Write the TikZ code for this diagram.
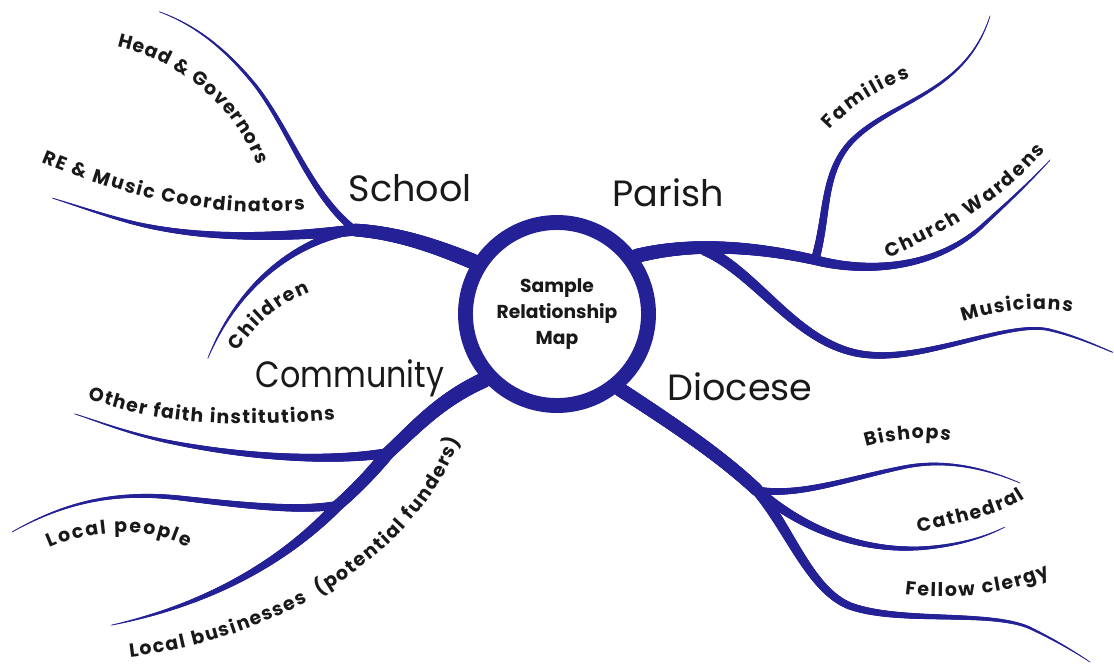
\documentclass[tikz,border=0pt]{standalone}
\usepackage{fontspec}
\usetikzlibrary{decorations.markings,decorations.text}
\newfontfamily\poppins{Poppins}
\definecolor{inkblue}{RGB}{36,33,150}
\definecolor{inktext}{RGB}{25,25,25}
\newcommand{\leaffont}{\poppins\bfseries\fontsize{13.5}{15}\selectfont}

\tikzset{
	twig/.style 2 args={decorate, decoration={markings,
			mark=between positions 0 and 1 step 1pt with {%
				\pgfmathsetmacro\tw{#1+(#2-#1)*\pgfkeysvalueof{/pgf/decoration/mark info/distance from start}/\pgfdecoratedpathlength}%
				\draw[inkblue, line width=\tw pt, line cap=round] (-0.7pt,0) -- (0.7pt,0);}}},
	leaf/.style={decorate, decoration={text along path, text align=fit to path, text color=inktext, text={|\leaffont|#1}}},
	hub/.style={font=\poppins\fontsize{26}{30}\selectfont, text=inktext},
	ring/.style={circle, draw=inkblue, line width=10.6pt, fill=white, minimum size=4.575cm, inner sep=0pt,
		align=center, text=inktext, font=\poppins\bfseries\fontsize{13.3}{18.4}\selectfont}
}

\begin{document}
\begin{tikzpicture}[x=0.025cm, y=-0.025cm]
	\useasboundingbox (0,0) rectangle (1114,666);

	\node (map) at (557,314) [ring] {Sample\\Relationship\\Map};

	\node (school) at (410,188) [hub] {School};
	\node (parish) at (668,193) [hub] {Parish};
	\node (community) at (350,378) [hub] {\scalebox{0.87}[1]{Community}};
	\node (diocese) at (740,387) [hub] {Diocese};

	% junctions and loose ends
	\coordinate (schj) at (355,230);
	\coordinate (parj) at (705,250);
	\coordinate (famj) at (815,260);
	\coordinate (comj) at (388,453);
	\coordinate (lpj) at (338,505);
	\coordinate (dioj) at (757,490);
	\coordinate (hg) at (160,12);
	\coordinate (re) at (52,198);
	\coordinate (ch) at (208,358);
	\coordinate (fa) at (990,16);
	\coordinate (cw) at (1050,160);
	\coordinate (mu) at (1112,352);
	\coordinate (of) at (75,414);
	\coordinate (lp) at (12,532);
	\coordinate (lb) at (112,625);
	\coordinate (bi) at (1020,483);
	\coordinate (ca) at (1005,527);
	\coordinate (fc) at (1090,662);

	% School
	\path[twig={11}{9}] (map.148) .. controls (440,248) and (400,233) .. (schj);
	\path[twig={5}{0.4}] (schj) .. controls (310,195) and (290,130) .. (255,85) .. controls (225,48) and (195,25) .. (hg);
	\path[twig={8}{0.4}] (schj) .. controls (280,238) and (200,240) .. (130,222) .. controls (100,214) and (75,205) .. (re);
	\path[twig={6}{0.4}] (schj) .. controls (300,240) and (240,280) .. (ch);

	% Parish
	\path[twig={10}{7}] (map.36) .. controls (680,245) and (740,243) .. (famj);
	\path[twig={7}{0.4}] (famj) .. controls (860,272) and (930,272) .. (980,228) .. controls (1005,205) and (1030,182) .. (cw);
	\path[twig={6}{0.4}] (famj) .. controls (828,215) and (822,175) .. (850,143) .. controls (890,100) and (965,95) .. (fa);
	\path[twig={8}{0.6}] (parj) .. controls (760,275) and (800,350) .. (870,355) .. controls (930,360) and (1010,320) .. (1050,330) .. controls (1075,336) and (1095,345) .. (mu);

	% Community
	\path[twig={11}{9}] (map.222) .. controls (440,400) and (415,428) .. (comj);
	\path[twig={9}{8}] (comj) .. controls (370,475) and (355,490) .. (lpj);
	\path[twig={7}{0.4}] (comj) .. controls (330,462) and (250,458) .. (170,442) .. controls (130,434) and (100,422) .. (of);
	\path[twig={6}{0.4}] (lpj) .. controls (300,512) and (240,505) .. (180,498) .. controls (110,490) and (60,505) .. (lp);
	\path[twig={8}{0.4}] (lpj) .. controls (300,545) and (230,600) .. (lb);

	% Diocese
	\path[twig={10}{9}] (map.310) .. controls (675,425) and (722,457) .. (dioj);
	\path[twig={5}{0.4}] (dioj) .. controls (800,497) and (850,478) .. (905,467) .. controls (945,459) and (985,468) .. (bi);
	\path[twig={7}{0.4}] (dioj) .. controls (810,535) and (870,552) .. (925,548) .. controls (960,545) and (985,537) .. (ca);
	\path[twig={8}{0.4}] (dioj) .. controls (790,530) and (810,590) .. (850,606) .. controls (900,624) and (990,610) .. (1030,628) .. controls (1055,640) and (1075,652) .. (fc);

	% labels along the branches
	\path[leaf={Head {\&} Governors}] (117,47) .. controls (175,60) and (232,100) .. (257,165);
	\path[leaf={RE {\&} Music Coordinators}] (42,162) .. controls (110,190) and (200,220) .. (305,210);
	\path[leaf={Children}] (238,352) .. controls (255,325) and (278,305) .. (310,292);
	\path[leaf={Other faith institutions}] (88,398) .. controls (140,420) and (220,430) .. (335,420);
	\path[leaf={Local people}] (50,548) .. controls (90,530) and (150,525) .. (188,548);
	\path[leaf={Local businesses{\ }{\ }(potential funders)}] (130,657) .. controls (260,642) and (410,570) .. (460,440);
	\path[leaf={Families}] (830,130) .. controls (848,110) and (872,92) .. (910,78);
	\path[leaf={Church Wardens}] (888,258) .. controls (940,235) and (1000,205) .. (1045,150);
	\path[leaf={Musicians}] (963,322) .. controls (1000,310) and (1040,306) .. (1072,312);
	\path[leaf={Bishops}] (866,447) .. controls (890,440) and (920,436) .. (950,441);
	\path[leaf={Cathedral}] (918,532) .. controls (955,525) and (1000,515) .. (1025,498);
	\path[leaf={Fellow clergy}] (905,594) .. controls (950,600) and (1010,595) .. (1050,575);
\end{tikzpicture}
\end{document}
